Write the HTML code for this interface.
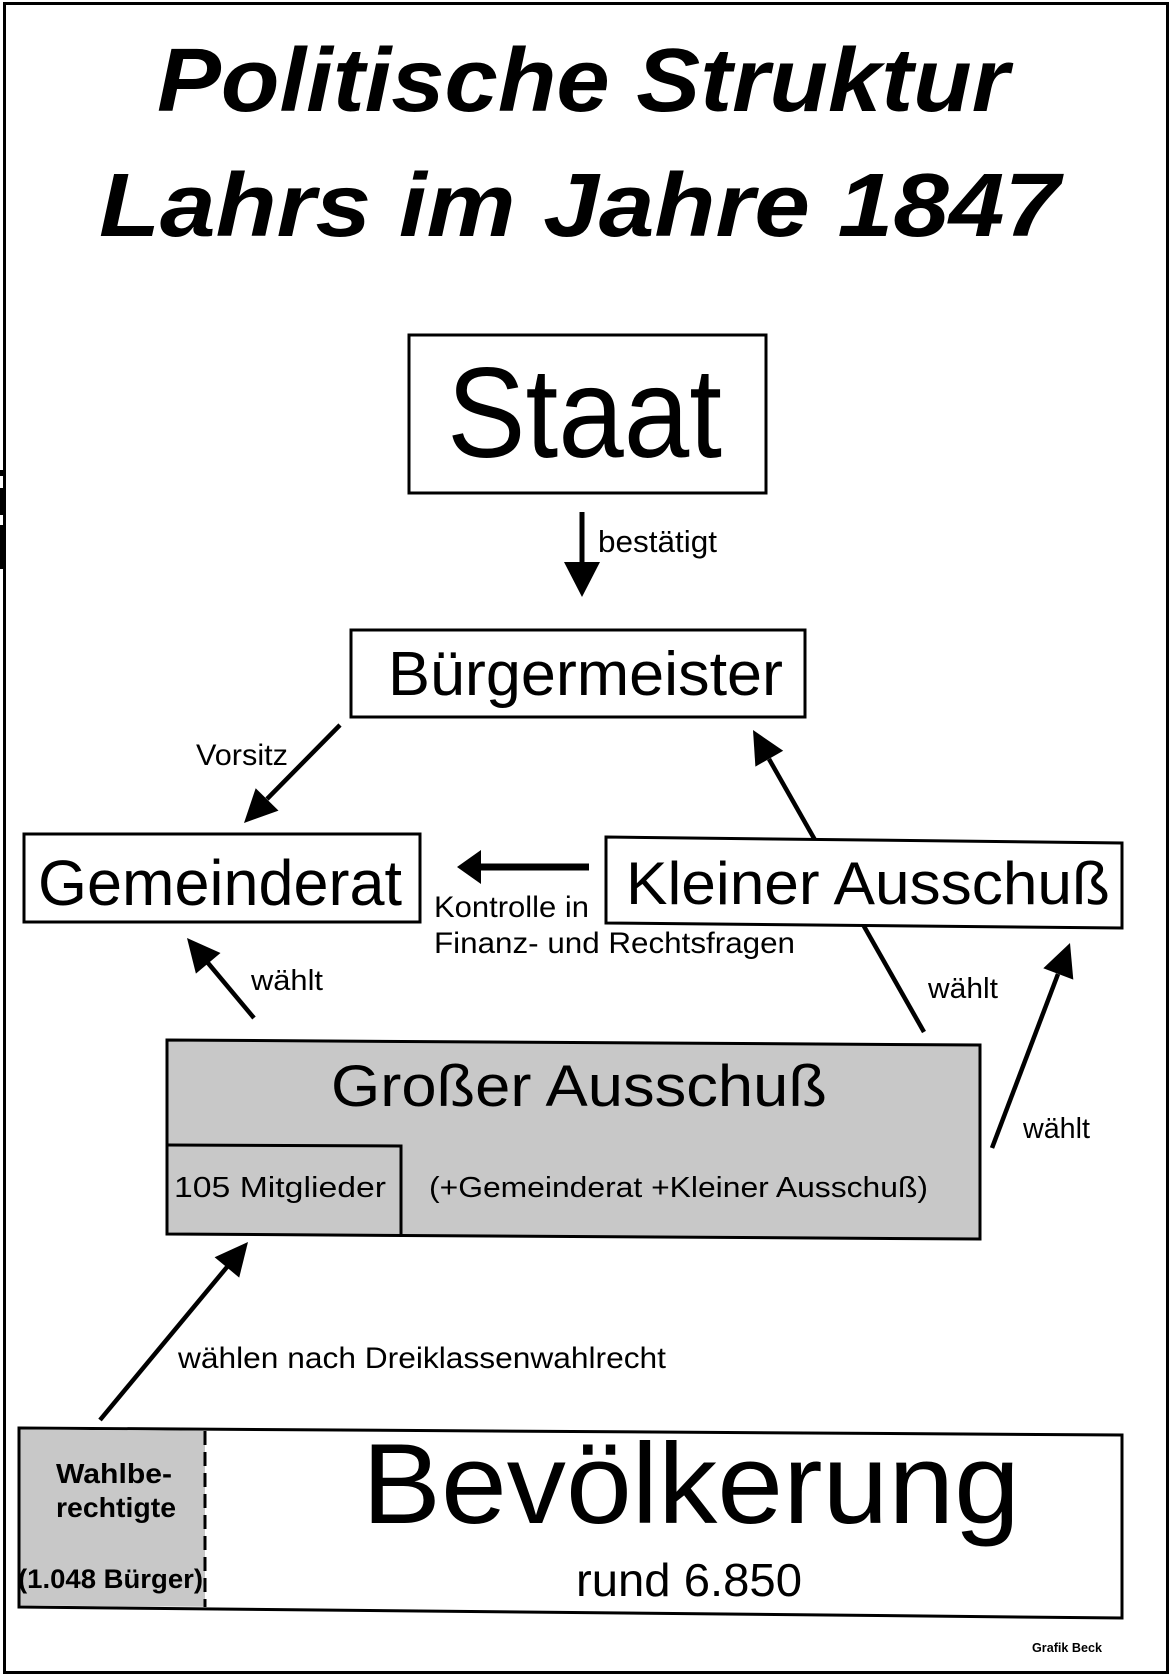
<!DOCTYPE html>
<html>
<head>
<meta charset="utf-8">
<style>
html,body{margin:0;padding:0;background:#fff;}
svg{display:block;font-family:"Liberation Sans",Arial,sans-serif;}
text{font-family:"Liberation Sans",Arial,sans-serif;fill:#000;}
.t{font-weight:bold;font-style:italic;font-size:90px;}
.b{font-weight:bold;}
</style>
</head>
<body>
<svg width="1176" height="1680" viewBox="0 0 1176 1680" xmlns="http://www.w3.org/2000/svg" font-family="Liberation Sans, Arial, sans-serif">
  <rect x="0" y="0" width="1176" height="1680" fill="#fff"/>
  <!-- outer border -->
  <rect x="4.5" y="3.5" width="1163" height="1669" fill="none" stroke="#000" stroke-width="3"/>
  <rect x="0" y="470" width="6" height="6" fill="#000"/>
  <rect x="0" y="488" width="6" height="27" fill="#000"/>
  <rect x="0" y="525" width="6" height="44" fill="#000"/>

  <!-- title -->
  <text class="t" x="157" y="111" font-family="Liberation Sans, Arial, sans-serif" textLength="852" lengthAdjust="spacingAndGlyphs">Politische Struktur</text>
  <text class="t" x="99" y="236" font-family="Liberation Sans, Arial, sans-serif" textLength="961" lengthAdjust="spacingAndGlyphs">Lahrs im Jahre 1847</text>

  <!-- Staat -->
  <rect x="409" y="335" width="357" height="158" fill="#fff" stroke="#000" stroke-width="3"/>
  <text x="447" y="457" font-size="128" textLength="275" lengthAdjust="spacingAndGlyphs">Staat</text>

  <!-- bestätigt arrow -->
  <line x1="582" y1="512" x2="582" y2="564" stroke="#000" stroke-width="5"/>
  <polygon points="564,562 600,562 582,597" fill="#000"/>
  <text x="598" y="552" font-size="31" textLength="119" lengthAdjust="spacingAndGlyphs">bestätigt</text>

  <!-- long arrow Großer -> Bürgermeister (behind Kleiner box) -->
  <line x1="924" y1="1032" x2="769" y2="759" stroke="#000" stroke-width="4.5"/>
  <polygon points="753,730 783.2,750.8 755.4,766.6" fill="#000"/>

  <!-- Bürgermeister -->
  <rect x="351" y="630" width="454" height="87" fill="#fff" stroke="#000" stroke-width="3"/>
  <text x="388" y="695" font-size="62" textLength="395" lengthAdjust="spacingAndGlyphs">Bürgermeister</text>

  <!-- Vorsitz arrow -->
  <line x1="340" y1="725" x2="267" y2="799" stroke="#000" stroke-width="4.5"/>
  <polygon points="244,823 278.5,810.6 255.7,788.2" fill="#000"/>
  <text x="196" y="765" font-size="30" textLength="92" lengthAdjust="spacingAndGlyphs">Vorsitz</text>

  <!-- Gemeinderat -->
  <rect x="24" y="834" width="396" height="88" fill="#fff" stroke="#000" stroke-width="3"/>
  <text x="38" y="905" font-size="64" textLength="364" lengthAdjust="spacingAndGlyphs">Gemeinderat</text>

  <!-- Kontrolle arrow -->
  <line x1="478" y1="867" x2="589" y2="867" stroke="#000" stroke-width="7"/>
  <polygon points="457,867 481,850 481,884" fill="#000"/>
  <text x="434" y="917" font-size="30" textLength="155" lengthAdjust="spacingAndGlyphs">Kontrolle in</text>
  <text x="434" y="953" font-size="30" textLength="361" lengthAdjust="spacingAndGlyphs">Finanz- und Rechtsfragen</text>

  <!-- Kleiner Ausschuß -->
  <polygon points="606,837 1122,843 1122,928 606,923" fill="#fff" stroke="#000" stroke-width="3"/>
  <text x="626" y="904" font-size="60" textLength="484" lengthAdjust="spacingAndGlyphs">Kleiner Ausschuß</text>
  <text x="928" y="998" font-size="29" textLength="70" lengthAdjust="spacingAndGlyphs">wählt</text>

  <!-- Großer -> Gemeinderat arrow -->
  <line x1="254" y1="1018" x2="208" y2="963" stroke="#000" stroke-width="4.5"/>
  <polygon points="187,938 220.5,953 195.9,973.6" fill="#000"/>
  <text x="251" y="990" font-size="29" textLength="72" lengthAdjust="spacingAndGlyphs">wählt</text>

  <!-- right arrow Großer -> Kleiner -->
  <line x1="992" y1="1148" x2="1058" y2="974" stroke="#000" stroke-width="4.5"/>
  <polygon points="1070,943 1073.3,979.6 1043.3,968.2" fill="#000"/>
  <text x="1023" y="1138" font-size="29" textLength="67" lengthAdjust="spacingAndGlyphs">wählt</text>

  <!-- Großer Ausschuß -->
  <polygon points="167,1040 980,1045 980,1239 167,1234" fill="#c8c8c8" stroke="#000" stroke-width="3"/>
  <polyline points="167,1145 401,1146 401,1235" fill="none" stroke="#000" stroke-width="3"/>
  <text x="331" y="1106" font-size="58" textLength="496" lengthAdjust="spacingAndGlyphs">Großer Ausschuß</text>
  <text x="174" y="1197" font-size="29" textLength="212" lengthAdjust="spacingAndGlyphs">105 Mitglieder</text>
  <text x="429" y="1197" font-size="29" textLength="499" lengthAdjust="spacingAndGlyphs">(+Gemeinderat +Kleiner Ausschuß)</text>

  <!-- wählen arrow -->
  <line x1="100" y1="1420" x2="227" y2="1267" stroke="#000" stroke-width="4.5"/>
  <polygon points="248,1242 239.2,1277.6 214.6,1257.2" fill="#000"/>
  <text x="178" y="1368" font-size="30" textLength="488" lengthAdjust="spacingAndGlyphs">wählen nach Dreiklassenwahlrecht</text>

  <!-- Bevölkerung -->
  <polygon points="19,1428 1122,1435 1122,1618 19,1607" fill="#fff" stroke="#000" stroke-width="3"/>
  <polygon points="20.5,1429.5 205,1430.7 205,1606.7 20.5,1605.5" fill="#c8c8c8"/>
  <line x1="205" y1="1431" x2="205" y2="1607" stroke="#000" stroke-width="3" stroke-dasharray="14,7"/>
  <text class="b" x="56" y="1483" font-size="28" textLength="116" lengthAdjust="spacingAndGlyphs" fill="#1a1a1a">Wahlbe-</text>
  <text class="b" x="56" y="1517" font-size="28" textLength="120" lengthAdjust="spacingAndGlyphs" fill="#1a1a1a">rechtigte</text>
  <text class="b" x="18" y="1588" font-size="27" textLength="185" lengthAdjust="spacingAndGlyphs" fill="#1a1a1a">(1.048 Bürger)</text>
  <text x="362" y="1523" font-size="114" textLength="658" lengthAdjust="spacingAndGlyphs">Bevölkerung</text>
  <text x="576" y="1596" font-size="46" textLength="226" lengthAdjust="spacingAndGlyphs">rund 6.850</text>

  <text class="b" x="1032" y="1652" font-size="13" textLength="70" lengthAdjust="spacingAndGlyphs">Grafik Beck</text>
</svg>
</body>
</html>
